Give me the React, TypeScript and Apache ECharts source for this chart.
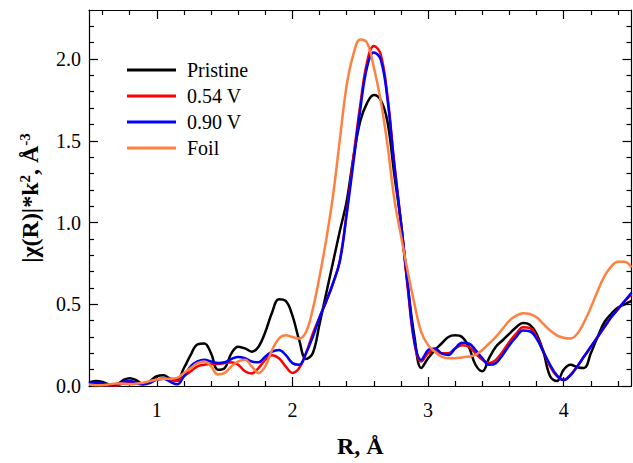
import React, { useEffect, useRef } from "react";
import * as echarts from "echarts";

const R = [
  0.5, 0.55, 0.6, 0.65, 0.7, 0.75, 0.8, 0.85, 0.9, 0.95,
  1.0, 1.05, 1.1, 1.15, 1.2, 1.25, 1.3, 1.35, 1.4, 1.45,
  1.5, 1.55, 1.6, 1.65, 1.7, 1.75, 1.8, 1.85, 1.9, 1.95,
  2.0, 2.05, 2.1, 2.15, 2.2, 2.25, 2.3, 2.35, 2.4, 2.45,
  2.5, 2.55, 2.6, 2.65, 2.7, 2.75, 2.8, 2.85, 2.9, 2.95,
  3.0, 3.05, 3.1, 3.15, 3.2, 3.25, 3.3, 3.35, 3.4, 3.45,
  3.5, 3.55, 3.6, 3.65, 3.7, 3.75, 3.8, 3.85, 3.9, 3.95,
  4.0, 4.05, 4.1, 4.15, 4.2, 4.25, 4.3, 4.35, 4.4, 4.45, 4.5,
];

const pristine = [
  0.02, 0.03, 0.025, 0.01, 0.01, 0.035, 0.048, 0.035, 0.012, 0.03,
  0.06, 0.065, 0.045, 0.04, 0.11, 0.19, 0.255, 0.26, 0.2, 0.1,
  0.11, 0.2, 0.24, 0.23, 0.21, 0.24, 0.33, 0.45, 0.53, 0.52,
  0.43, 0.28, 0.165, 0.2, 0.38, 0.57, 0.76, 0.95, 1.13, 1.4,
  1.62, 1.73, 1.78, 1.75, 1.62, 1.3, 1.0, 0.62, 0.3, 0.11,
  0.17, 0.22, 0.26, 0.3, 0.31, 0.3, 0.24, 0.13, 0.09, 0.17,
  0.24, 0.28, 0.32, 0.36, 0.385, 0.375, 0.32, 0.21, 0.06, 0.03,
  0.1, 0.13, 0.115, 0.11, 0.2, 0.3, 0.39, 0.44, 0.48, 0.5, 0.52,
];

const v054 = [
  0.01, 0.015, 0.01, 0.003, 0.003, 0.015, 0.02, 0.015, 0.01, 0.02,
  0.04, 0.045, 0.035, 0.03, 0.06, 0.09, 0.12, 0.13, 0.135, 0.135,
  0.14, 0.145, 0.13, 0.09, 0.077, 0.11, 0.16, 0.188, 0.17, 0.12,
  0.08, 0.11, 0.2, 0.32, 0.42, 0.52, 0.63, 0.77, 1.06, 1.4,
  1.72, 1.98, 2.08, 2.03, 1.78, 1.37, 1.0, 0.6, 0.26, 0.15,
  0.2, 0.22, 0.2, 0.2, 0.23, 0.25, 0.24, 0.2, 0.16, 0.14,
  0.16, 0.21, 0.27, 0.32, 0.36, 0.355, 0.3, 0.21, 0.12, 0.06,
  0.036, 0.07, 0.12, 0.18, 0.24, 0.3, 0.36, 0.42, 0.47, 0.52, 0.56,
];

const v090 = [
  0.015, 0.02, 0.015, 0.005, 0.01, 0.025, 0.03, 0.02, 0.01, 0.02,
  0.04, 0.045, 0.025, 0.01, 0.06, 0.12, 0.15, 0.16, 0.15, 0.14,
  0.145, 0.165, 0.178, 0.17, 0.15, 0.145, 0.18, 0.21, 0.22, 0.19,
  0.14, 0.13, 0.2, 0.3, 0.42, 0.52, 0.63, 0.765, 1.05, 1.37,
  1.69, 1.95, 2.04, 2.0, 1.76, 1.36, 1.0, 0.62, 0.27, 0.16,
  0.22, 0.23, 0.2, 0.19, 0.23, 0.265, 0.26, 0.22, 0.17, 0.13,
  0.14, 0.19, 0.25, 0.3, 0.34, 0.335, 0.29, 0.21, 0.13, 0.065,
  0.036, 0.065, 0.12, 0.18, 0.24, 0.3, 0.36, 0.42, 0.47, 0.52, 0.57,
];

const foil = [
  0.01, 0.005, 0.005, 0.01, 0.015, 0.015, 0.01, 0.015, 0.02, 0.03,
  0.04, 0.045, 0.045, 0.05, 0.08, 0.11, 0.14, 0.15, 0.12, 0.07,
  0.08, 0.12, 0.15, 0.16, 0.12, 0.08, 0.12, 0.22, 0.29, 0.31,
  0.3, 0.29, 0.33, 0.47, 0.67, 0.9, 1.17, 1.51, 1.84, 2.03,
  2.12, 2.1, 1.95, 1.75, 1.48, 1.15, 0.92, 0.7, 0.5, 0.33,
  0.25, 0.21, 0.18, 0.17, 0.17, 0.175, 0.18, 0.19, 0.22, 0.26,
  0.3, 0.35, 0.4, 0.43, 0.445, 0.44, 0.42, 0.38, 0.34, 0.31,
  0.295, 0.29, 0.32, 0.39, 0.48, 0.58, 0.67, 0.73, 0.76, 0.76, 0.725,
];

const seriesNames = ["Pristine", "0.54 V", "0.90 V", "Foil"];
const seriesColors = ["#000000", "#ff0000", "#0000ff", "#ff8040"];

const xMajor = [1, 2, 3, 4];
const xMinor = [0.6, 0.8, 1.2, 1.4, 1.6, 1.8, 2.2, 2.4, 2.6, 2.8, 3.2, 3.4, 3.6, 3.8, 4.2, 4.4];
const yMajor = [0, 0.5, 1.0, 1.5, 2.0];
const yMinor = [
  0.1, 0.2, 0.3, 0.4, 0.6, 0.7, 0.8, 0.9, 1.1, 1.2, 1.3, 1.4,
  1.6, 1.7, 1.8, 1.9, 2.1, 2.2,
];

const FONT = '"Liberation Serif", "Times New Roman", serif';

export default function App() {
  const ref = useRef<HTMLDivElement>(null);
  useEffect(() => {
    if (!ref.current) return;
    const chart = echarts.init(ref.current, undefined, { renderer: "svg" });
    const lineColor = "#000";
    const mkX = (pos: string, ticks: number[], len: number, main: boolean, labels: boolean) => ({
      type: "value",
      position: pos,
      min: 0.5,
      max: 4.5,
      splitLine: { show: false },
      axisLine: { show: main, onZero: false, lineStyle: { color: lineColor, width: 1.2 } },
      axisTick: { show: true, inside: true, length: len, customValues: ticks, lineStyle: { color: lineColor, width: 1.2 } },
      axisLabel: labels
        ? { show: true, customValues: ticks, margin: 14, fontFamily: FONT, fontSize: 20, color: "#000", formatter: (v: number) => String(v) }
        : { show: false },
      ...(labels
        ? {
            name: "R, Å",
            nameLocation: "middle",
            nameGap: 48,
            nameTextStyle: { fontFamily: FONT, fontSize: 24, fontWeight: "bold", color: "#000" },
          }
        : {}),
    });
    const mkY = (pos: string, ticks: number[], len: number, main: boolean, labels: boolean) => ({
      type: "value",
      position: pos,
      min: 0,
      max: 2.3,
      splitLine: { show: false },
      axisLine: { show: main, onZero: false, lineStyle: { color: lineColor, width: 1.2 } },
      axisTick: { show: true, inside: true, length: len, customValues: ticks, lineStyle: { color: lineColor, width: 1.2 } },
      axisLabel: labels
        ? { show: true, customValues: ticks, margin: 8, fontFamily: FONT, fontSize: 20, color: "#000", formatter: (v: number) => v.toFixed(1) }
        : { show: false },
      ...(labels
        ? {
            name: "|χ(R)|*k{s|2}, Å{s|-3}",
            nameLocation: "middle",
            nameGap: 46,
            nameTextStyle: {
              fontFamily: FONT,
              fontSize: 24,
              fontWeight: "bold",
              color: "#000",
              rich: {
                s: { fontFamily: FONT, fontSize: 15, fontWeight: "bold", color: "#000", verticalAlign: "top", lineHeight: 26 },
              },
            },
          }
        : {}),
    });
    const data = [pristine, v054, v090, foil];
    chart.setOption({
      animation: false,
      grid: { left: 89, top: 10, width: 542.5, height: 379.5, containLabel: false },
      legend: {
        orient: "vertical",
        left: 127,
        top: 60,
        padding: 0,
        itemWidth: 49,
        itemHeight: 3,
        itemGap: 6,
        icon: "rect",
        data: seriesNames,
        textStyle: { fontFamily: FONT, fontSize: 20, color: "#000", padding: [0, 0, 0, 6] },
      },
      xAxis: [
        mkX("bottom", xMajor, 9, true, true),
        mkX("bottom", xMinor, 5, false, false),
        mkX("top", xMajor, 9, true, false),
        mkX("top", xMinor, 5, false, false),
      ],
      yAxis: [
        mkY("left", yMajor, 9, true, true),
        mkY("left", yMinor, 5, false, false),
        mkY("right", yMajor, 9, true, false),
        mkY("right", yMinor, 5, false, false),
      ],
      series: seriesNames.map((name, k) => ({
        name,
        type: "line",
        xAxisIndex: 0,
        yAxisIndex: 0,
        showSymbol: false,
        smooth: 0.4,
        data: R.map((r, i) => [r, data[k][i]]),
        lineStyle: { color: seriesColors[k], width: 2.5 },
        itemStyle: { color: seriesColors[k] },
      })),
    });
    return () => chart.dispose();
  }, []);
  return <div ref={ref} style={{ position: "absolute", left: 0, top: 0, width: 633, height: 463 }} />;
}
